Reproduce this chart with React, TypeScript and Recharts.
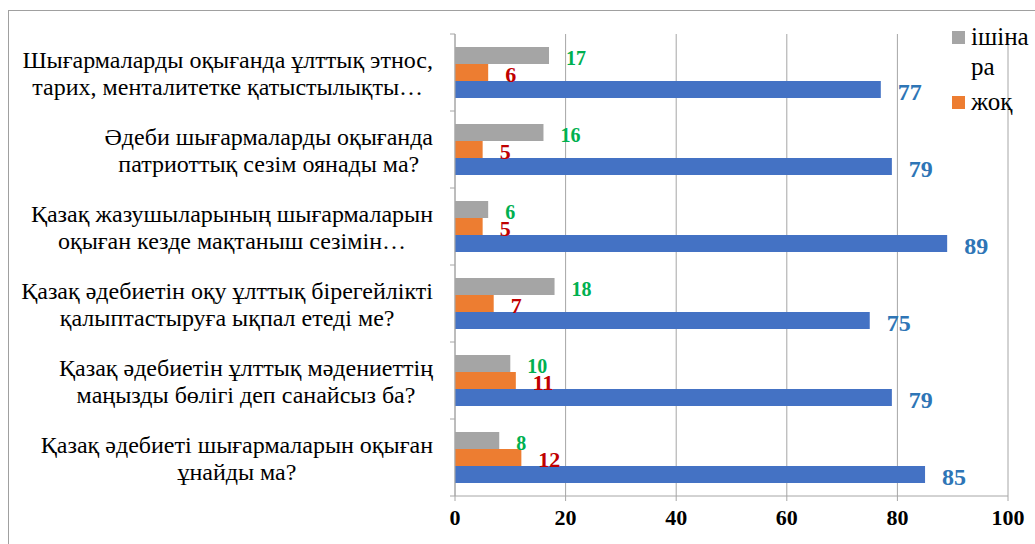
import React from "react";
import { BarChart, Bar, XAxis, YAxis, CartesianGrid, LabelList, Legend } from "recharts";

// question labels, top to bottom ("\n" marks the line break)
const questions = [
  "Шығармаларды оқығанда ұлттық этнос,\nтарих, менталитетке қатыстылықты…",
  "Әдеби шығармаларды оқығанда\nпатриоттық сезім оянады ма?",
  "Қазақ жазушыларының шығармаларын\nоқыған кезде мақтаныш сезімін…",
  "Қазақ әдебиетін оқу ұлттық бірегейлікті\nқалыптастыруға ықпал етеді ме?",
  "Қазақ әдебиетін ұлттық мәдениеттің\nмаңызды бөлігі деп санайсыз ба?",
  "Қазақ әдебиеті шығармаларын оқыған\nұнайды ма?",
];
const partly = [17, 16, 6, 18, 10, 8];
const no = [6, 5, 5, 7, 11, 12];
const yes = [77, 79, 89, 75, 79, 85];
const xTicks = [0, 20, 40, 60, 80, 100];
const legendOrder = ["partly", "no"];

const data = questions.map((q, i) => ({ q, partly: partly[i], no: no[i], yes: yes[i] }));

const C = {
  gray: "#A5A5A5", orange: "#ED7D31", blue: "#4472C4",
  green: "#00B050", red: "#C00000", blueText: "#2E75B6",
  grid: "#A6A6A6", frame: "#A0A0A0",
};
const SERIF = '"Liberation Serif", "Times New Roman", serif';
const LABEL_SIZE = 24;
const BAND = 77; // height of one category band

let ctx: CanvasRenderingContext2D | null = null;
function measure(s: string) {
  if (!ctx) ctx = document.createElement("canvas").getContext("2d");
  ctx!.font = `${LABEL_SIZE}px "Liberation Serif"`;
  return ctx!.measureText(s).width;
}

function QuestionTick({ x, y, payload }: any) {
  const lines = String(payload.value).split("\n");
  const w = Math.max(...lines.map(measure));
  const cx = x - 22 - w / 2;
  const last = payload.value === questions[questions.length - 1];
  return (
    <g>
      <line x1={x - 5} x2={x} y1={y - BAND / 2} y2={y - BAND / 2} stroke={C.grid} />
      {last && <line x1={x - 5} x2={x} y1={y + BAND / 2} y2={y + BAND / 2} stroke={C.grid} />}
      <text textAnchor="middle" style={{ fontFamily: SERIF, fontSize: LABEL_SIZE }} fill="#000">
        {lines.map((l, i) => (
          <tspan key={i} x={cx} y={y + (i === 0 ? -13 : 14)} dominantBaseline="central">{l}</tspan>
        ))}
      </text>
    </g>
  );
}

function ValueTick({ x, y, payload }: any) {
  return (
    <text x={x} y={y} dy={17} textAnchor="middle" fill="#000"
      style={{ fontFamily: SERIF, fontSize: 22, fontWeight: 700 }}>
      {payload.value}
    </text>
  );
}

function LegendBox({ payload }: any) {
  const items = legendOrder
    .map((k) => (payload || []).find((p: any) => p.dataKey === k))
    .filter(Boolean);
  return (
    <div style={{ fontFamily: SERIF, fontSize: 25, lineHeight: "30px", color: "#000" }}>
      {items.map((p: any, i: number) => (
        <div key={p.dataKey} style={{ display: "flex", alignItems: "flex-start", marginTop: i ? 5 : 0 }}>
          <span style={{ width: 13, height: 13, background: p.color, marginTop: 9, marginRight: 6, flexShrink: 0 }} />
          <span style={{ width: 62, wordBreak: "break-all", fontFamily: SERIF }}>{p.value}</span>
        </div>
      ))}
    </div>
  );
}

export default function App() {
  const lbl = { fontFamily: SERIF, fontWeight: 700 };
  return (
    <div style={{ position: "absolute", left: 0, top: 0, width: 1035, height: 544, overflow: "hidden", background: "#fff" }}>
      <div style={{ position: "absolute", left: 8, top: 10, width: 1100, height: 600, border: `1px solid ${C.frame}` }} />
      <div style={{ position: "absolute", left: 0, top: 0 }}>
        <BarChart
          width={1035}
          height={544}
          data={data}
          layout="vertical"
          margin={{ top: 34, right: 27, bottom: 0, left: 8 }}
          barCategoryGap={13}
          barGap={0}
        >
          <CartesianGrid horizontal={false} stroke={C.grid} />
          <XAxis
            type="number"
            domain={[0, 100]}
            ticks={xTicks}
            height={48}
            axisLine={{ stroke: C.grid }}
            tickLine={{ stroke: C.grid }}
            tickSize={5}
            tickMargin={7}
            tick={<ValueTick />}
          />
          <YAxis
            type="category"
            dataKey="q"
            width={447}
            interval={0}
            axisLine={{ stroke: C.grid }}
            tickLine={false}
            tickSize={0}
            tickMargin={0}
            tick={<QuestionTick />}
          />
          <Legend
            layout="horizontal"
            verticalAlign="middle"
            align="center"
            wrapperStyle={{ left: 952, top: 22, width: 84 }}
            content={<LegendBox />}
          />
          <Bar dataKey="partly" name="ішінара" fill={C.gray} isAnimationActive={false}>
            <LabelList dataKey="partly" position="right" offset={17} fill={C.green} fontSize={20} dy={2} {...lbl} />
          </Bar>
          <Bar dataKey="no" name="жоқ" fill={C.orange} isAnimationActive={false}>
            <LabelList dataKey="no" position="right" offset={17} fill={C.red} fontSize={22} dy={2} {...lbl} />
          </Bar>
          <Bar dataKey="yes" name="иә" fill={C.blue} isAnimationActive={false}>
            <LabelList dataKey="yes" position="right" offset={17} fill={C.blueText} fontSize={24} dy={2} {...lbl} />
          </Bar>
        </BarChart>
      </div>
    </div>
  );
}
